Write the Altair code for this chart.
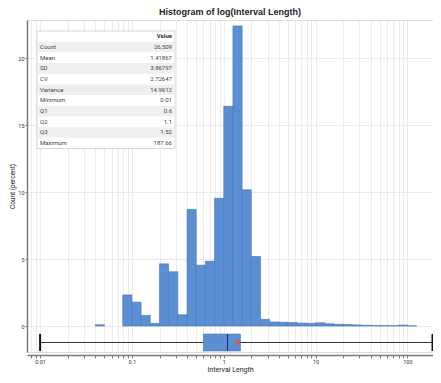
import altair as alt
import pandas as pd

# ---- data ----
bin_left_log10 = [-1.4, -1.1, -1.0, -0.9, -0.8, -0.7, -0.6, -0.5, -0.4, -0.3, -0.2, -0.1,
                  0.0, 0.1, 0.2, 0.3, 0.4, 0.5, 0.6, 0.7, 0.8, 0.9, 1.0, 1.1, 1.2, 1.3,
                  1.4, 1.5, 1.6, 1.7, 1.8, 1.9, 2.0]
bin_pct = [0.1, 2.32, 1.78, 0.79, 0.2, 4.64, 4.05, 0.84, 8.69, 4.54, 4.84, 9.53,
           16.4, 22.4, 10.17, 5.19, 0.5, 0.3, 0.28, 0.26, 0.22, 0.2, 0.24, 0.17, 0.13, 0.11,
           0.08, 0.06, 0.04, 0.03, 0.02, 0.07, 0.01]
bin_width_log10 = 0.1

stat_names = ["Count", "Mean", "SD", "CV", "Variance", "Minimum", "Q1", "Q2", "Q3", "Maximum"]
stat_values = ["26,509", "1.41867", "3.86797", "2.72647", "14.9612", "0.01", "0.6", "1.1", "1.52", "187.66"]

box_min, box_q1, box_med, box_q3, box_max = 0.01, 0.6, 1.1, 1.52, 187.66
box_mean = 1.41867

decade_ticks = [0.01, 0.1, 1, 10, 100]
y_ticks = [0, 5, 10, 15, 20]

# ---- build tables ----
hist = pd.DataFrame({
    "x0": [10 ** v for v in bin_left_log10],
    "x1": [10 ** (v + bin_width_log10) for v in bin_left_log10],
    "pct": bin_pct,
})
box = pd.DataFrame([{"mn": box_min, "q1": box_q1, "med": box_med, "q3": box_q3,
                     "mx": box_max, "mean": box_mean}])

XMIN, XMAX = 0.0072, 190
minor = []
for d in [0.001] + decade_ticks:
    for k in range(1, 10):
        v = float(f"{k * d:.6g}")
        if XMIN <= v <= XMAX:
            minor.append(v)

FONT = "Roboto"
BLUE = "#5b8fd4"

xscale = alt.Scale(type="log", domain=[XMIN, XMAX], nice=False)
yscale = alt.Scale(domain=[-1.94, 22.84], nice=False, zero=False)

label_expr = ("abs(log(datum.value)/LN10 - round(log(datum.value)/LN10)) < 1e-6 ? "
              "format(datum.value, '~g') : ''")

bars = alt.Chart(hist).mark_rect(fill=BLUE, stroke="#4876b3", strokeWidth=0.6).encode(
    x=alt.X("x0:Q", scale=xscale, title="Interval Length",
            axis=alt.Axis(values=minor, labelExpr=label_expr, grid=True, gridColor="#e6e6e6",
                          gridWidth=0.8, domainColor="#7a7a7a", domainWidth=1.5,
                          tickColor="#7a7a7a", tickSize=3, offset=3, labelFontSize=5.5,
                          labelColor="#333", labelPadding=1, titleFontSize=7,
                          titleFont=FONT, labelFont=FONT, titleFontWeight="normal",
                          titlePadding=1, titleColor="#222", labelFlush=False)),
    x2="x1:Q",
    y=alt.Y("pct:Q", scale=yscale, title="Count (percent)",
            axis=alt.Axis(values=y_ticks, grid=True, gridColor="#e6e6e6", gridWidth=0.8,
                          domainColor="#7a7a7a", domainWidth=1.5, tickColor="#7a7a7a",
                          tickSize=2, labelFontSize=5.5, labelColor="#333", labelPadding=1,
                          titleFontSize=6.5, titleFont=FONT, labelFont=FONT,
                          titleFontWeight="normal", titleColor="#222", titlePadding=2)),
    y2=alt.datum(0),
)

BOX_TOP, BOX_BOT, BOX_MID = -0.6, -1.86, -1.23
whisker = alt.Chart(box).mark_rule(color="#333333", strokeWidth=1).encode(
    x="mn:Q", x2="mx:Q", y=alt.datum(BOX_MID))
cap_lo = alt.Chart(box).mark_rule(color="#111111", strokeWidth=2).encode(
    x="mn:Q", y=alt.datum(BOX_TOP), y2=alt.datum(BOX_BOT))
cap_hi = alt.Chart(box).mark_rule(color="#111111", strokeWidth=2).encode(
    x="mx:Q", y=alt.datum(BOX_TOP), y2=alt.datum(BOX_BOT))
boxrect = alt.Chart(box).mark_rect(fill=BLUE, stroke="#4876b3", strokeWidth=0.6).encode(
    x="q1:Q", x2="q3:Q", y=alt.datum(BOX_TOP), y2=alt.datum(BOX_BOT))
median = alt.Chart(box).mark_rule(color="#1b2a4a", strokeWidth=1).encode(
    x="med:Q", y=alt.datum(BOX_TOP), y2=alt.datum(BOX_BOT))
meanpt = alt.Chart(box).mark_circle(color="#d9534f", opacity=1, size=22).encode(
    x="mean:Q", y=alt.datum(BOX_MID))

main = alt.layer(bars, whisker, cap_lo, cap_hi, boxrect, median, meanpt)

# ---- stats table overlay ----
rows = pd.DataFrame({
    "i": list(range(1, len(stat_names) + 1)),
    "name": stat_names,
    "val": stat_values,
})
rows["i1"] = rows["i"] + 1
rows["ym"] = rows["i"] + 0.5
rows["shade"] = rows["i"] % 2 == 1
tscale = alt.Scale(domain=[0, 11], range=[11, 128.5])

tbl_base = alt.Chart(rows)
tbl_bg = alt.Chart(pd.DataFrame({"a": [0]})).mark_rect(
    fill="white", stroke="#cccccc", strokeWidth=0.8).encode(
    x=alt.value(10), x2=alt.value(148),
    y=alt.Y("a:Q", scale=tscale, axis=None), y2=alt.datum(11))
tbl_shade = tbl_base.transform_filter("datum.shade").mark_rect(fill="#efefef").encode(
    x=alt.value(10.5), x2=alt.value(147.5),
    y=alt.Y("i:Q", scale=tscale, axis=None), y2="i1:Q")
tbl_names = tbl_base.mark_text(align="left", baseline="middle", font=FONT, fontSize=6,
                               color="#444").encode(
    x=alt.value(13), y=alt.Y("ym:Q", scale=tscale, axis=None), text="name:N")
tbl_vals = tbl_base.mark_text(align="right", baseline="middle", font=FONT, fontSize=6,
                              color="#444").encode(
    x=alt.value(145), y=alt.Y("ym:Q", scale=tscale, axis=None), text="val:N")
tbl_head = alt.Chart(pd.DataFrame({"h": ["Value"], "y": [0.5]})).mark_text(
    align="right", baseline="middle", font=FONT, fontSize=6, fontWeight="bold",
    color="#333").encode(
    x=alt.value(145), y=alt.Y("y:Q", scale=tscale, axis=None), text="h:N")

table = alt.layer(tbl_bg, tbl_shade, tbl_names, tbl_vals, tbl_head)

chart = alt.layer(main, table).resolve_scale(y="independent").properties(
    width=406, height=332,
    title=alt.Title("Histogram of log(Interval Length)", font="Liberation Sans",
                    fontSize=9, fontWeight="bold", color="#222", offset=3, anchor="middle"),
    autosize=alt.AutoSizeParams(type="none"),
    padding={"left": 19, "top": 12, "right": 0, "bottom": 22},
).configure_view(stroke=None).configure(background="white")

chart.save("out.html", embed_options={"renderer": "svg", "actions": False})
